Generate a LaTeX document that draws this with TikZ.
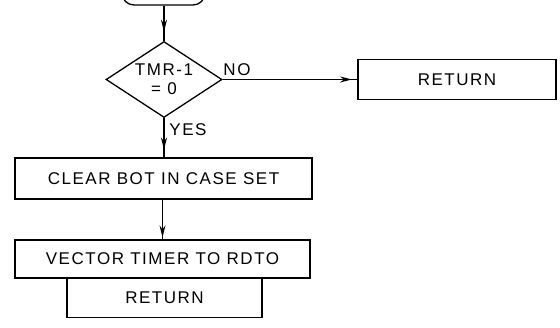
\documentclass[tikz,border=0pt]{standalone}
\usepackage{fontspec}
\setmainfont{Liberation Sans}[LetterSpace=9]
\usetikzlibrary{shapes.geometric,arrows.meta,decorations.markings}
\begin{document}
\begin{tikzpicture}[x=1pt,y=-1pt,
  every node/.style={font=\fontsize{17}{19}\selectfont},
  ln/.style={line width=1.3pt},
  boxn/.style={draw,ln,rectangle,inner sep=0pt},
  arr/.style={ln,decoration={markings,mark=at position #1 with {\arrow{Stealth[length=12pt,width=6pt]}}},postaction={decorate}},
  lbl/.style={inner sep=0pt}]
\useasboundingbox (0,0) rectangle (560,328);
\clip (0,0) rectangle (560,328);
\fill[white] (0,0) rectangle (560,328);
% top terminal (cut off)
\node[draw,ln,rounded corners=12pt,minimum width=83pt,minimum height=30pt,inner sep=0pt] (start) at (163.5,-10) {};
% decision
\node[draw,ln,diamond,aspect=1.53,minimum width=116pt,minimum height=76pt,inner sep=0pt,align=center] (d) at (164,79.5) {TMR-1\\= 0};
% boxes
\node[boxn,minimum width=198pt,minimum height=40pt] (ret1) at (457,79.5) {RETURN};
\node[boxn,minimum width=297pt,minimum height=41pt] (clear) at (163.5,178.5) {CLEAR BOT IN CASE SET};
\node[boxn,minimum width=295pt,minimum height=38pt] (vec) at (162.5,259) {VECTOR TIMER TO RDTO};
\node[boxn,minimum width=195pt,minimum height=39pt,anchor=north] (ret2) at (164.5,278) {RETURN};
% labels
\node[lbl] (no) at (237,70) {NO};
\node[lbl] (yes) at (188,130) {YES};
% connectors
\draw[arr=0.74] (start.south -| d.north) -- (d.north);
\draw[arr=0.96] (d.east) -- (ret1.west);
\draw[arr=0.8] (d.south) -- (d.south |- clear.north);
\draw[arr=0.95] (clear.south -| vec.north) -- (vec.north);
\end{tikzpicture}
\end{document}
